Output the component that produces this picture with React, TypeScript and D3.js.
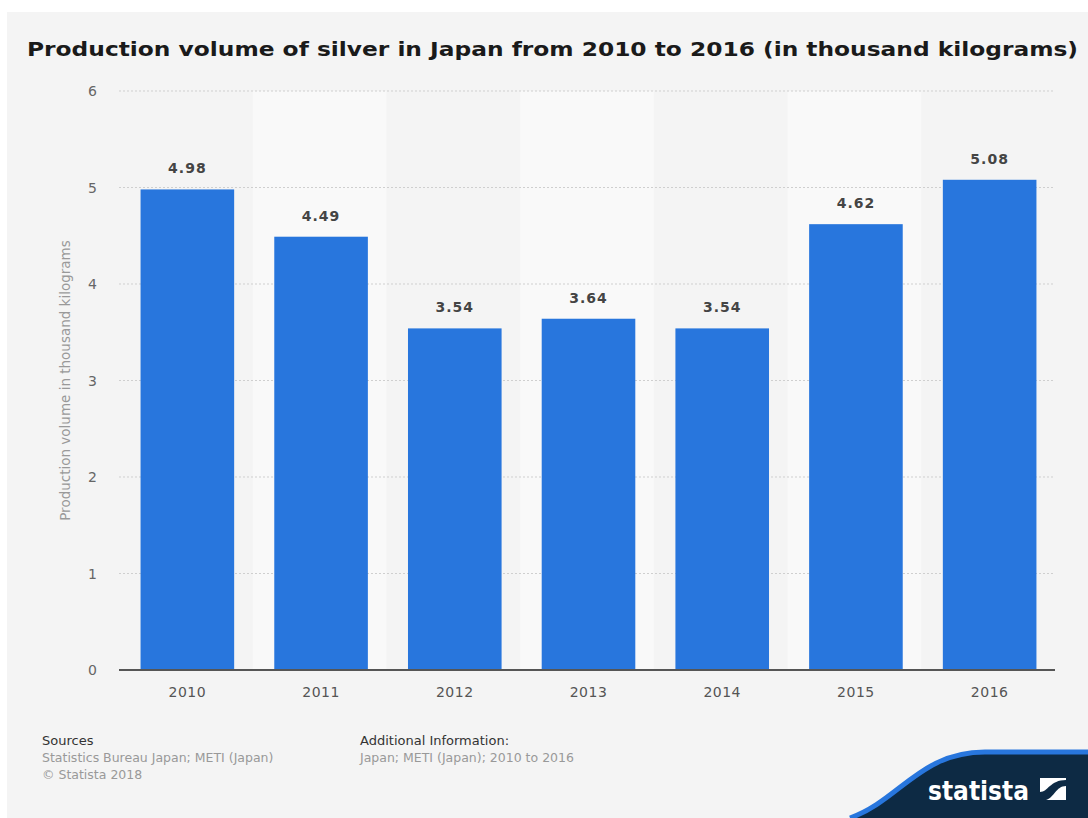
import React from "react";
import * as d3 from "d3";

const years = ["2010", "2011", "2012", "2013", "2014", "2015", "2016"];
const values = [4.98, 4.49, 3.54, 3.64, 3.54, 4.62, 5.08];
const yTicks = [0, 1, 2, 3, 4, 5, 6];
const title = "Production volume of silver in Japan from 2010 to 2016 (in thousand kilograms)";
const yLabel = "Production volume in thousand kilograms";

export default function App() {
  const W = 1088, H = 818;
  const left = 119, right = 1055, top = 91, bottom = 670;
  const x = d3.scaleBand<string>().domain(years).range([left, right]).paddingInner(0).paddingOuter(0);
  const y = d3.scaleLinear().domain([0, 6]).range([bottom, top]);
  const bw = x.bandwidth() * 0.7;
  const logoPath = `M 850 ${H} C 900 800, 920 752, 985 752 L ${W} 752 L ${W} ${H} Z`;
  const logoEdge = `M 850 ${H} C 900 800, 920 752, 985 752 L ${W} 752`;
  return (
    <svg width={W} height={H} style={{ position: "absolute", left: 0, top: 0, fontFamily: "'DejaVu Sans', sans-serif" }}>
      <rect x={0} y={0} width={W} height={H} fill="#ffffff" />
      <rect x={7} y={12} width={W - 7} height={H - 12} fill="#f4f4f4" />
      <text x={27} y={56} fontSize={19} fontWeight="bold" fill="#1a1a1a" textLength={1051} lengthAdjust="spacingAndGlyphs">{title}</text>
      {years.map((yr, i) => i % 2 === 1 ? (
        <rect key={"s" + yr} x={x(yr)} y={top} width={x.bandwidth()} height={bottom - top} fill="#f9f9f9" />
      ) : null)}
      {yTicks.map(t => (
        <g key={"t" + t}>
          {t > 0 && <line x1={left} x2={right} y1={y(t)} y2={y(t)} stroke="#cfcfcf" strokeWidth={1} strokeDasharray="2,2" />}
          <text x={97} y={y(t) + 5} fontSize={14} fill="#666" textAnchor="end">{t}</text>
        </g>
      ))}
      {years.map((yr, i) => {
        const cx = (x(yr) as number) + x.bandwidth() / 2 + 1.5;
        return (
          <g key={"b" + yr}>
            <rect x={cx - bw / 2} y={y(values[i])} width={bw} height={bottom - y(values[i])} fill="#2876dd" />
            <text x={cx} y={y(values[i]) - 16} fontSize={14} fontWeight="bold" fill="#444" textAnchor="middle" letterSpacing={1}>{values[i].toFixed(2)}</text>
            <text x={cx} y={697} fontSize={14} fill="#555" textAnchor="middle" letterSpacing={0.5}>{yr}</text>
          </g>
        );
      })}
      <line x1={left} x2={right} y1={bottom} y2={bottom} stroke="#555" strokeWidth={2} />
      <text transform={`translate(70, ${(top + bottom) / 2}) rotate(-90)`} fontSize={13.5} fill="#999" textAnchor="middle">{yLabel}</text>
      <text x={42} y={745} fontSize={13} fill="#333">Sources</text>
      <text x={42} y={762} fontSize={12.5} fill="#999">Statistics Bureau Japan; METI (Japan)</text>
      <text x={42} y={779} fontSize={12.5} fill="#999">© Statista 2018</text>
      <text x={360} y={745} fontSize={13} fill="#333">Additional Information:</text>
      <text x={360} y={762} fontSize={12.5} fill="#999">Japan; METI (Japan); 2010 to 2016</text>
      <path d={logoPath} fill="#0d2a44" />
      <path d={logoEdge} fill="none" stroke="#2876dd" strokeWidth={5} />
      <text x={928} y={800} fontSize={26} fontWeight="bold" fill="#ffffff" fontFamily="'Liberation Sans Narrow', 'DejaVu Sans Condensed', sans-serif">statista</text>
      <g transform="translate(1040, 778)">
        <rect x={0} y={0} width={26} height={22} fill="#ffffff" />
        <path d="M 0 22 L 0 14 C 8 14, 10 2, 26 2 L 26 8 C 16 8, 14 20, 6 22 Z" fill="#0d2a44" />
      </g>
    </svg>
  );
}
